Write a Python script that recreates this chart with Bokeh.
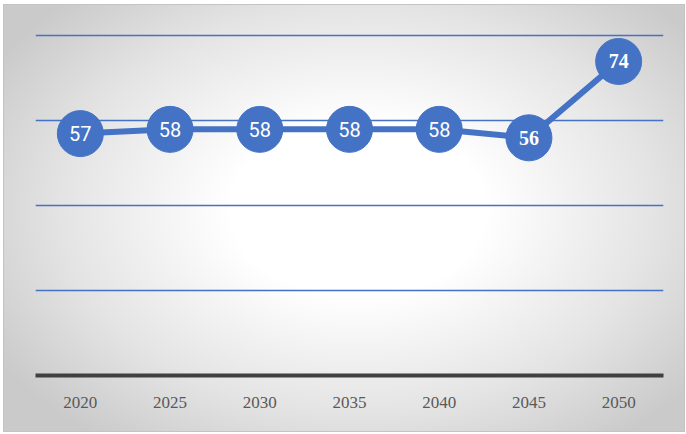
from bokeh.plotting import figure
from bokeh.models import ColumnDataSource, FixedTicker, Range1d
from bokeh.core.properties import value
from bokeh.embed import file_html
from bokeh.resources import INLINE

years = ["2020", "2025", "2030", "2035", "2040", "2045", "2050"]
values = [57, 58, 58, 58, 58, 56, 74]
labels = ["57", "58", "58", "58", "58", "56", "74"]
y_ticks = [0, 20, 40, 60, 80]

BLUE = "#4472C4"

fonts = ["Roboto"] * 5 + ["Liberation Serif"] * 2
styles = ["normal"] * 5 + ["bold"] * 2
src = ColumnDataSource(dict(x=years, y=values, label=labels, font=fonts, fstyle=styles))

p = figure(x_range=years, y_range=Range1d(0, 82), width=680, height=426,
           frame_width=628, frame_height=348,
           output_backend="svg", toolbar_location=None,
           min_border_left=31, min_border_right=21, min_border_top=22, min_border_bottom=56)
p.background_fill_alpha = 0
p.border_fill_alpha = 0
p.outline_line_color = None
p.styles = {
    "margin-left": "3px",
    "margin-top": "4px",
    "border": "1px solid #c4c4c4",
    "background": "radial-gradient(ellipse 62% 68% at 52% 48%, #ffffff 0%, #ffffff 30%, #e4e4e4 70%, #cacaca 100%)",
}

p.yaxis.visible = False
p.ygrid.ticker = FixedTicker(ticks=y_ticks[1:])
p.ygrid.grid_line_color = BLUE
p.ygrid.grid_line_width = 1.5
p.xgrid.visible = False

p.xaxis.axis_line_color = "#404040"
p.xaxis.axis_line_width = 4
p.xaxis.major_tick_line_color = None
p.xaxis.minor_tick_line_color = None
p.xaxis.major_tick_out = 0
p.xaxis.major_tick_in = 0
p.xaxis.major_label_text_font = "Liberation Serif"
p.xaxis.major_label_text_font_size = "17px"
p.xaxis.major_label_text_color = "#595959"
p.xaxis.major_label_standoff = 21

p.line("x", "y", source=src, line_color=BLUE, line_width=6)
p.scatter("x", "y", source=src, size=46, fill_color=BLUE, line_color=BLUE)
p.text("x", "y", text="label", source=src, text_color="white",
       text_font="font", text_font_style="fstyle", text_font_size="20px",
       text_align="center", text_baseline="middle")

open("out.html", "w").write(file_html(p, INLINE))
